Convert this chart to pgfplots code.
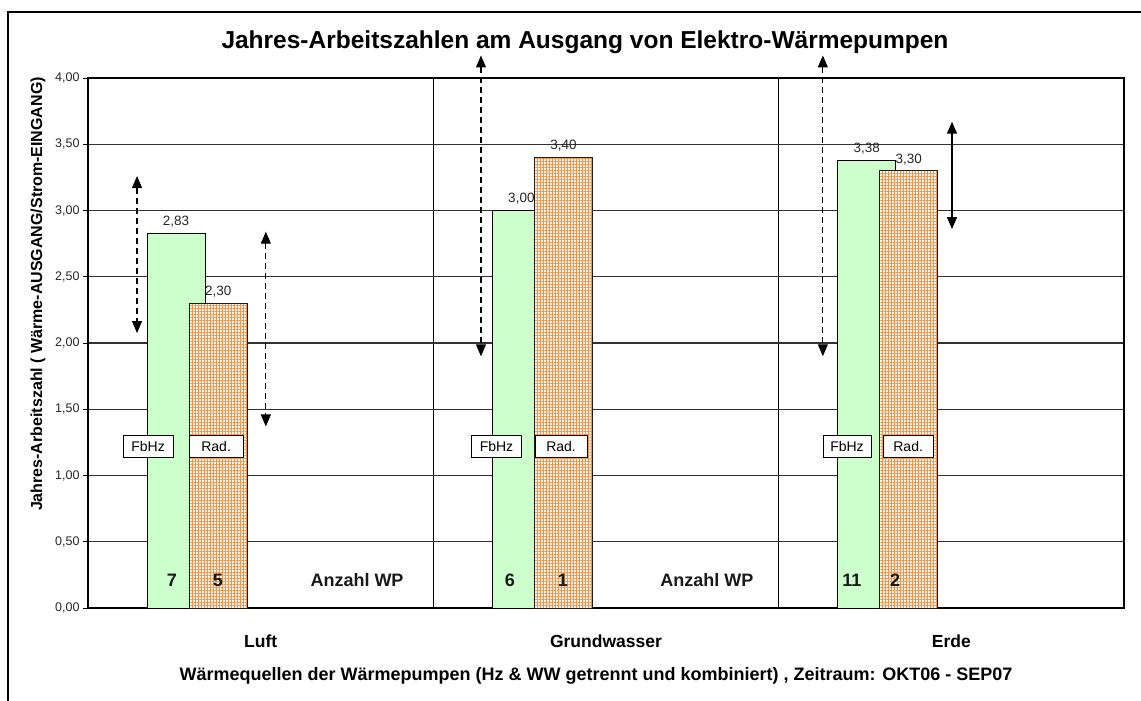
\documentclass[border=0pt]{standalone}
\usepackage{fontspec}
\setmainfont{Liberation Sans}
\usepackage{pgfplots}
\pgfplotsset{compat=1.18}
\usetikzlibrary{arrows.meta,patterns.meta}

\definecolor{fbgreen}{RGB}{204,255,204}
\definecolor{radorange}{RGB}{235,150,80}
\definecolor{radbg}{RGB}{255,242,228}
\definecolor{gridc}{RGB}{50,50,50}

\tikzset{
  boxlbl/.style={draw=black, line width=0.8pt, fill=white, font=\fontsize{14}{14}\selectfont, minimum width=#1, minimum height=22pt, inner sep=2pt},
  cnt/.style={font=\bfseries\fontsize{18}{18}\selectfont, text=black!90},
  darr/.style={line width=1.1pt, dash pattern=on 6pt off 4pt, {Triangle[width=10pt,length=12pt]}-{Triangle[width=10pt,length=12pt]}},
  sarr/.style={line width=1.3pt, {Triangle[width=10pt,length=12pt]}-{Triangle[width=10pt,length=12pt]}},
}

\begin{document}
\begin{tikzpicture}[x=1pt,y=1pt]
\useasboundingbox (0,0) rectangle (1141,-701);
\draw[line width=2pt] (8,-705) -- (8,-12) -- (1145,-12);
\node[font=\bfseries\fontsize{24.5}{24.5}\selectfont] at (585,-42) {Jahres-Arbeitszahlen am Ausgang von Elektro-Wärmepumpen};
\node[rotate=90, font=\bfseries\fontsize{16}{16}\selectfont] at (38,-294) {Jahres-Arbeitszahl ( Wärme-AUSGANG/Strom-EINGANG)};
\node[font=\bfseries\fontsize{18}{18}\selectfont] at (596,-676) {Wärmequellen der Wärmepumpen (Hz \& WW getrennt und kombiniert) , Zeitraum: OKT06 - SEP07};
\begin{axis}[
  at={(88pt,-608pt)}, anchor=south west,
  scale only axis, width=1036pt, height=530pt,
  xmin=0, xmax=3, ymin=0, ymax=4,
  clip=false,
  axis line style={black, line width=1.3pt},
  ytick={0,0.5,1,1.5,2,2.5,3,3.5,4},
  ytick pos=left, tick align=outside, major tick length=5pt,
  ytick style={black, line width=1pt},
  ymajorgrids=true,
  major grid style={gridc, line width=1.2pt},
  xtick={0.5,1.5,2.5},
  xticklabels={Luft,Grundwasser,Erde},
  xtick style={draw=none},
  minor xtick={1,2},
  xminorgrids=true,
  minor grid style={black, line width=1.3pt},
  xticklabel style={font=\bfseries\fontsize{17.5}{17.5}\selectfont, yshift=-18pt},
  yticklabel style={font=\fontsize{12.5}{12.5}\selectfont, text=black!85},
  /pgf/number format/.cd, fixed, fixed zerofill, precision=2, use comma, assume math mode=true,
]
\addplot[ybar, bar width=0.168, bar shift=0pt, fill=fbgreen, draw=black, line width=0.9pt,
  nodes near coords,
  nodes near coords style={font=\fontsize{13.5}{13.5}\selectfont, text=black!85, yshift=2pt, anchor=south}]
  coordinates {(0.255,2.83) (1.255,3.00) (2.255,3.38)};
\addplot[ybar, bar width=0.168, bar shift=0pt, fill=radbg, draw=black!80!brown, line width=0.9pt,
  postaction={pattern={Hatch[angle=0,distance=3pt,line width=0.9pt]}, pattern color=radorange},
  nodes near coords,
  nodes near coords style={font=\fontsize{13.5}{13.5}\selectfont, text=black!85, yshift=2pt, anchor=south}]
  coordinates {(0.377,2.30) (1.377,3.40) (2.377,3.30)};

\node[boxlbl=50pt] at (axis cs:0.174,1.22) {FbHz};
\node[boxlbl=54pt] at (axis cs:0.371,1.22) {Rad.};
\node[boxlbl=50pt] at (axis cs:1.183,1.22) {FbHz};
\node[boxlbl=52pt] at (axis cs:1.370,1.22) {Rad.};
\node[boxlbl=48pt] at (axis cs:2.198,1.22) {FbHz};
\node[boxlbl=50pt] at (axis cs:2.375,1.22) {Rad.};

\node[cnt] at (axis cs:0.243,0.21) {7};
\node[cnt] at (axis cs:0.376,0.21) {5};
\node[cnt] at (axis cs:1.222,0.21) {6};
\node[cnt] at (axis cs:1.375,0.21) {1};
\node[cnt] at (axis cs:2.212,0.21) {11};
\node[cnt] at (axis cs:2.337,0.21) {2};
\node[cnt] at (axis cs:0.779,0.21) {Anzahl WP};
\node[cnt] at (axis cs:1.792,0.21) {Anzahl WP};

\draw[darr] (axis cs:0.142,3.26) -- (axis cs:0.142,2.075);
\draw[darr] (axis cs:0.515,2.84) -- (axis cs:0.515,1.37);
\draw[darr] (axis cs:1.138,4.17) -- (axis cs:1.138,1.90);
\draw[darr] (axis cs:2.128,4.17) -- (axis cs:2.128,1.90);
\draw[sarr] (axis cs:2.502,3.67) -- (axis cs:2.502,2.86);
\end{axis}
\end{tikzpicture}
\end{document}
